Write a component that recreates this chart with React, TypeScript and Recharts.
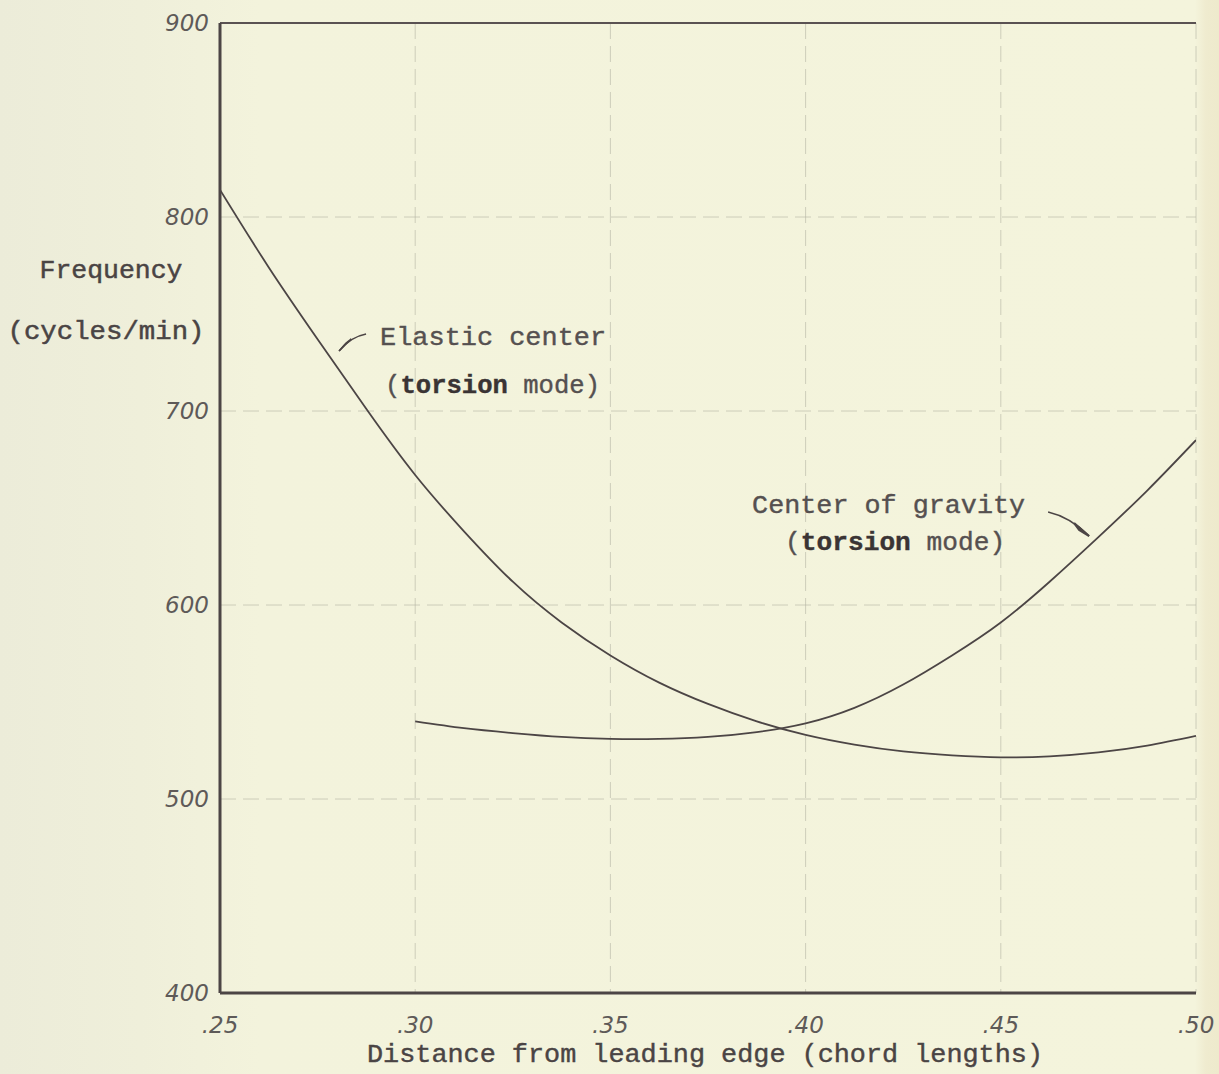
import React from 'react';
import {
  LineChart,
  Line,
  XAxis,
  YAxis,
  CartesianGrid,
  ReferenceLine,
  ReferenceDot,
  Label,
} from 'recharts';

// ---- data ----
const positions = [
  0.25, 0.2625, 0.275, 0.2875, 0.3, 0.3125, 0.325, 0.3375, 0.35, 0.3625, 0.375,
  0.3875, 0.4, 0.4125, 0.425, 0.4375, 0.45, 0.4625, 0.475, 0.4875, 0.5,
];
const elasticCenter = [
  814, 774, 737, 701, 667, 638, 612, 591, 574, 560, 549, 540, 533, 528, 524.5,
  522.5, 521.5, 522, 524, 527.5, 532.5,
];
const centerOfGravity = [
  null, null, null, null, 540, 536.5, 534, 532, 531, 531, 532, 534.5, 539, 547,
  559, 574, 591, 612, 635, 659, 685,
];
const xTicks = [0.25, 0.3, 0.35, 0.4, 0.45, 0.5];
const xTickLabels = ['.25', '.30', '.35', '.40', '.45', '.50'];
const yTicks = [400, 500, 600, 700, 800, 900];

const data = positions.map((x, i) => ({
  x,
  elastic: elasticCenter[i],
  gravity: centerOfGravity[i],
}));

const INK = '#4c4545';
const TYPE = '"Liberation Mono", "DejaVu Sans Mono", monospace';
const HAND = '"DejaVu Sans", sans-serif';

const XTick = (props: any) => {
  const { x, y, payload } = props;
  const idx = xTicks.findIndex((t) => Math.abs(t - payload.value) < 1e-6);
  return (
    <text
      x={x}
      y={y + 32}
      textAnchor="middle"
      dominantBaseline="central"
      fontFamily={HAND}
      fontStyle="italic"
      fontSize={23}
      fill="#5e5a58"
    >
      {idx >= 0 ? xTickLabels[idx] : payload.value}
    </text>
  );
};

const YTick = (props: any) => {
  const { x, y, payload } = props;
  return (
    <text
      x={x - 11}
      y={y}
      textAnchor="end"
      dominantBaseline="central"
      fontFamily={HAND}
      fontStyle="italic"
      fontSize={23}
      fill="#5e5a58"
    >
      {payload.value}
    </text>
  );
};

const FreqLabel = (props: any) => {
  const vb = props.viewBox || { x: 0, y: 23 };
  return (
    <g fontFamily={TYPE} fill="#4a4444" stroke="#4a4444" strokeWidth={0.5}>
      <text x={vb.x + 111} y={vb.y + 255} textAnchor="middle" fontSize={26} textLength={143} lengthAdjust="spacingAndGlyphs">
        Frequency
      </text>
      <text x={vb.x + 106} y={vb.y + 316} textAnchor="middle" fontSize={26} textLength={197} lengthAdjust="spacingAndGlyphs">
        (cycles/min)
      </text>
    </g>
  );
};

const DistLabel = (props: any) => {
  const vb = props.viewBox || { x: 220, y: 993, width: 976 };
  return (
    <text
      x={vb.x + 485}
      y={vb.y + 69}
      textAnchor="middle"
      fontFamily={TYPE}
      fontSize={25}
      fill="#4a4444"
      stroke="#4a4444"
      strokeWidth={0.4}
      textLength={676}
      lengthAdjust="spacingAndGlyphs"
    >
      Distance from leading edge (chord lengths)
    </text>
  );
};

const ElasticNote = (props: any) => {
  const { cx, cy } = props;
  if (cx == null || cy == null) return null;
  return (
    <g fontFamily={TYPE} fontSize={26}>
      <text x={cx} y={cy} fill="#555050" stroke="#555050" strokeWidth={0.4} textLength={226} lengthAdjust="spacingAndGlyphs">
        Elastic center
      </text>
      <text x={cx + 5} y={cy + 48} fill="#555050" stroke="#555050" strokeWidth={0.4} textLength={215} lengthAdjust="spacingAndGlyphs">
        (<tspan fontWeight="bold" fill="#3a3434" stroke="#3a3434">torsion</tspan> mode)
      </text>
      <path d={`M ${cx - 14} ${cy - 11} Q ${cx - 30} ${cy - 8} ${cx - 41} ${cy + 6}`} fill="none" stroke={INK} strokeWidth={1.5} />
      <path d={`M ${cx - 41} ${cy + 6} L ${cx - 29} ${cy - 6} L ${cx - 34} ${cy - 2} Z`} fill={INK} stroke={INK} strokeWidth={1.5} />
    </g>
  );
};

const GravityNote = (props: any) => {
  const { cx, cy } = props;
  if (cx == null || cy == null) return null;
  return (
    <g fontFamily={TYPE} fontSize={26}>
      <text x={cx} y={cy} fill="#555050" stroke="#555050" strokeWidth={0.4} textLength={273} lengthAdjust="spacingAndGlyphs">
        Center of gravity
      </text>
      <text x={cx + 33} y={cy + 37} fill="#555050" stroke="#555050" strokeWidth={0.4} textLength={220} lengthAdjust="spacingAndGlyphs">
        (<tspan fontWeight="bold" fill="#3a3434" stroke="#3a3434">torsion</tspan> mode)
      </text>
      <path d={`M ${cx + 296} ${cy - 1} Q ${cx + 318} ${cy + 4} ${cx + 337} ${cy + 23}`} fill="none" stroke={INK} strokeWidth={1.5} />
      <path d={`M ${cx + 337} ${cy + 23} L ${cx + 322} ${cy + 10} L ${cx + 327} ${cy + 17} Z`} fill={INK} stroke={INK} strokeWidth={2} />
    </g>
  );
};

export default function App() {
  return (
    <div
      style={{
        width: 1219,
        height: 1074,
        background:
          'linear-gradient(to right, #ececd9 0px, #efefda 140px, #f3f3dc 260px, #f4f4dc 1195px, #efebcf 1206px, #eeeacc 1219px)',
        overflow: 'hidden',
      }}
    >
      <style>{'body{margin:0}'}</style>
      <LineChart
        width={1219}
        height={1074}
        data={data}
        margin={{ top: 23, right: 23, bottom: 0, left: 0 }}
      >
        <CartesianGrid
          stroke="#b4b4a4"
          strokeOpacity={0.6}
          strokeDasharray="16 7"
          strokeWidth={1}
        />
        <XAxis
          dataKey="x"
          type="number"
          domain={[0.25, 0.5]}
          ticks={xTicks}
          height={81}
          tickLine={false}
          tickSize={0}
          tickMargin={0}
          axisLine={{ stroke: INK, strokeWidth: 3 }}
          tick={<XTick />}
          interval={0}
          allowDataOverflow
        >
          <Label content={<DistLabel />} />
        </XAxis>
        <YAxis
          type="number"
          domain={[400, 900]}
          ticks={yTicks}
          width={220}
          tickLine={false}
          tickSize={0}
          tickMargin={0}
          axisLine={{ stroke: INK, strokeWidth: 3 }}
          tick={<YTick />}
          interval={0}
          allowDataOverflow
        >
          <Label content={<FreqLabel />} />
        </YAxis>
        <ReferenceLine y={900} stroke="#5a5252" strokeWidth={2} />
        <Line
          type="natural"
          dataKey="elastic"
          stroke={INK}
          strokeWidth={1.8}
          dot={false}
          isAnimationActive={false}
        />
        <Line
          type="natural"
          dataKey="gravity"
          stroke={INK}
          strokeWidth={1.8}
          dot={false}
          isAnimationActive={false}
        />
        <ReferenceDot x={0.291} y={734} r={0} shape={<ElasticNote />} ifOverflow="visible" />
        <ReferenceDot x={0.3863} y={647.4} r={0} shape={<GravityNote />} ifOverflow="visible" />
      </LineChart>
    </div>
  );
}
